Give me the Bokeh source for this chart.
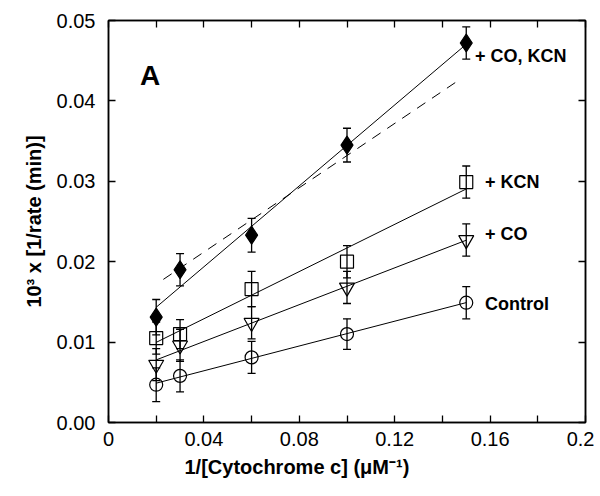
import numpy as np
from bokeh.plotting import figure
from bokeh.models import ColumnDataSource, Whisker, LinearAxis, FixedTicker, Range1d, Label, TeeHead, Title
from bokeh.embed import file_html
from bokeh.resources import INLINE

# ---- data ----
inv_cyt = [0.02, 0.03, 0.06, 0.10, 0.15]
control = [0.0047, 0.0058, 0.0081, 0.0110, 0.0149]
control_err = [0.0021, 0.0020, 0.0020, 0.0019, 0.0020]
plus_co = [0.0072, 0.0096, 0.0124, 0.0168, 0.0227]
plus_co_err = [0.0020, 0.0020, 0.0020, 0.0020, 0.0020]
plus_kcn = [0.0105, 0.0110, 0.0166, 0.0200, 0.0299]
plus_kcn_err = [0.0020, 0.0018, 0.0022, 0.0020, 0.0020]
plus_co_kcn = [0.0131, 0.0190, 0.0233, 0.0345, 0.0472]
plus_co_kcn_err = [0.0022, 0.0020, 0.0021, 0.0021, 0.0020]
dashed_x = [0.023, 0.148]
dashed_y = [0.0178, 0.0428]

series_labels = ["Control", "+ CO", "+ KCN", "+ CO, KCN"]
label_x = [0.1579, 0.1579, 0.1579, 0.1537]
label_y = [0.0148, 0.0234, 0.0299, 0.0456]

x_ticks = [0, 0.04, 0.08, 0.12, 0.16, 0.2]
x_tick_labels = ["0", "0.04", "0.08", "0.12", "0.16", "0.2"]
x_minor = [0.02, 0.06, 0.10, 0.14, 0.18]
y_ticks = [0, 0.01, 0.02, 0.03, 0.04, 0.05]
y_tick_labels = ["0.00", "0.01", "0.02", "0.03", "0.04", "0.05"]

x_title = "1/[Cytochrome c] (\u03bcM\u207b\u00b9)"
y_title = "10\u00b3 x [1/rate (min)]"

FONT = "Liberation Sans"

W, H = 594, 492
p = figure(width=W, height=H, output_backend="svg", toolbar_location=None,
           x_range=Range1d(0, 0.2), y_range=Range1d(0, 0.05),
           min_border_left=108, min_border_right=9, min_border_top=20, min_border_bottom=70)
p.grid.visible = False
p.outline_line_color = "black"
p.outline_line_width = 1.5
p.background_fill_color = "white"
p.border_fill_color = "white"

def style_axis(ax, ticks, minor, labels, show_labels=True):
    ax.ticker = FixedTicker(ticks=ticks, minor_ticks=minor)
    if show_labels:
        ax.major_label_overrides = {t: l for t, l in zip(ticks, labels)}
    else:
        ax.major_label_overrides = {t: "" for t in ticks}
        ax.major_label_standoff = 0
        ax.major_label_text_font_size = "1px"
    ax.axis_line_color = "black"
    ax.axis_line_width = 1.5
    ax.major_tick_in = 7
    ax.major_tick_out = 0
    ax.minor_tick_in = 7
    ax.minor_tick_out = 0
    ax.major_tick_line_color = "black"
    ax.minor_tick_line_color = "black"
    ax.major_tick_line_width = 1.3
    ax.minor_tick_line_width = 1.3
    ax.major_label_text_font = FONT
    ax.major_label_text_color = "black"

style_axis(p.xaxis[0], x_ticks, x_minor, x_tick_labels)
style_axis(p.yaxis[0], y_ticks, [], y_tick_labels)
p.xaxis[0].major_label_text_font_size = "20px"
p.yaxis[0].major_label_text_font_size = "20px"
p.xaxis[0].major_label_standoff = 9
p.yaxis[0].major_label_standoff = 13

p.yaxis[0].axis_label = y_title
ax = p.yaxis[0]
ax.axis_label_text_font = FONT
ax.axis_label_text_font_style = "bold"
ax.axis_label_text_font_size = "20px"
ax.axis_label_text_color = "black"
p.yaxis[0].axis_label_standoff = 9

# x-axis title as a Title below the axis, shifted left as in the original
p.add_layout(Title(text=x_title, align="left", offset=76, standoff=11,
                   text_font=FONT, text_font_style="bold", text_font_size="20px",
                   text_color="black"), "below")

top = LinearAxis()
style_axis(top, x_ticks, x_minor, x_tick_labels, show_labels=False)
right = LinearAxis()
style_axis(right, y_ticks, [], y_tick_labels, show_labels=False)
p.add_layout(top, "above")
p.add_layout(right, "right")

xs = np.array(inv_cyt)
series = [
    (control, control_err, "circle", False, 13),
    (plus_co, plus_co_err, "inverted_triangle", False, 15),
    (plus_kcn, plus_kcn_err, "square", False, 13),
    (plus_co_kcn, plus_co_kcn_err, "diamond", True, 18),
]

# dashed reference line
p.line(dashed_x, dashed_y, line_color="black", line_width=1, line_dash="10 8")

for ys, errs, marker, filled, size in series:
    ys = np.array(ys)
    errs = np.array(errs)
    slope, icpt = np.polyfit(xs, ys, 1)
    fit_x = [xs.min(), xs.max()]
    fit_y = [icpt + slope * xs.min(), icpt + slope * xs.max()]
    p.line(fit_x, fit_y, line_color="black", line_width=1)
    src = ColumnDataSource(dict(x=xs, y=ys, lo=ys - errs, hi=ys + errs))
    w = Whisker(base="x", lower="lo", upper="hi", source=src, line_color="black", line_width=1.3,
                upper_head=TeeHead(size=8, line_color="black", line_width=1.3),
                lower_head=TeeHead(size=8, line_color="black", line_width=1.3))
    p.add_layout(w)
    p.scatter("x", "y", source=src, marker=marker, size=size,
              line_color="black", line_width=1.2,
              fill_color="black" if filled else None)

for txt, lx, ly in zip(series_labels, label_x, label_y):
    p.add_layout(Label(x=lx, y=ly, text=txt, text_font=FONT, text_font_style="bold",
                       text_font_size="18px", text_color="black", text_baseline="middle"))

p.add_layout(Label(x=0.0132, y=0.0432, text="A", text_font=FONT, text_font_style="bold",
                   text_font_size="28px", text_color="black", text_baseline="middle"))

open("out.html", "w").write(file_html(p, INLINE))
